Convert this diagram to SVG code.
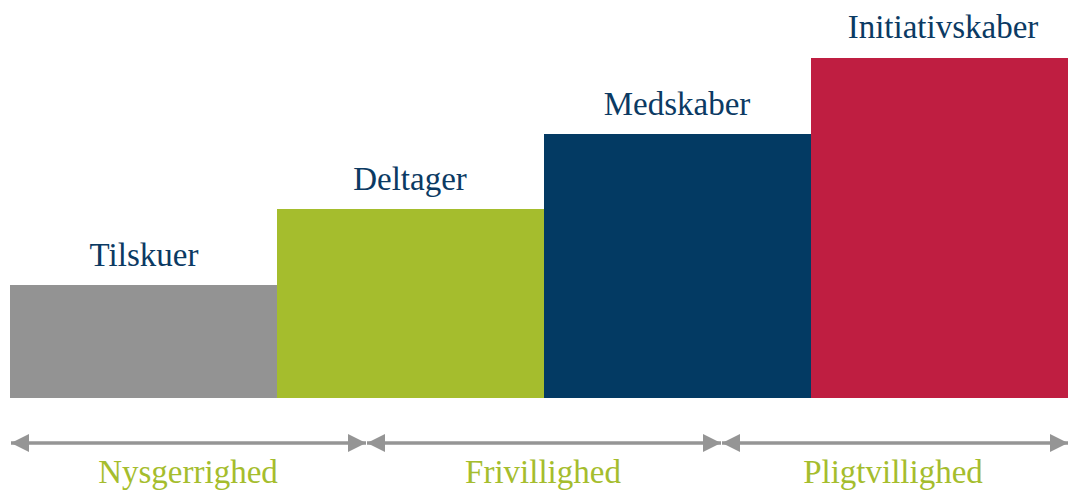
<svg xmlns="http://www.w3.org/2000/svg" width="1068" height="491" viewBox="0 0 1068 491">
<style>
.lbl{font-family:"Liberation Serif","Times New Roman",serif;font-size:33px;fill:#0b3a63;text-anchor:middle}
.phase{font-family:"Liberation Serif","Times New Roman",serif;font-size:33px;fill:#a5bd2d;text-anchor:middle}
.ln{stroke:#959595;stroke-width:3.5;fill:none}
</style>
<defs>
<marker id="ah" viewBox="0 0 18 18" refX="18" refY="9" markerWidth="18" markerHeight="18" markerUnits="userSpaceOnUse" orient="auto-start-reverse">
<path d="M0,0 L18,9 L0,18 Z" fill="#959595"/>
</marker>
</defs>
<rect width="1068" height="491" fill="#fff"/>
<g id="tilskuer">
<rect x="10" y="285" width="267" height="113" fill="#939393"/>
<text class="lbl" x="144" y="266">Tilskuer</text>
</g>
<g id="deltager">
<rect x="277" y="209" width="267" height="189" fill="#a5bd2d"/>
<text class="lbl" x="410" y="190">Deltager</text>
</g>
<g id="medskaber">
<rect x="544" y="134" width="267" height="264" fill="#033a63"/>
<text class="lbl" x="677" y="115">Medskaber</text>
</g>
<g id="initiativskaber">
<rect x="811" y="58" width="267" height="340" fill="#bf1e41"/>
<text class="lbl" x="943" y="38">Initiativskaber</text>
</g>
<g id="connectors">
<line class="ln" x1="11" y1="443" x2="366" y2="443" marker-start="url(#ah)" marker-end="url(#ah)"/>
<line class="ln" x1="367" y1="443" x2="721" y2="443" marker-start="url(#ah)" marker-end="url(#ah)"/>
<line class="ln" x1="722" y1="443" x2="1068" y2="443" marker-start="url(#ah)" marker-end="url(#ah)"/>
</g>
<g id="phases">
<text class="phase" x="188" y="483">Nysgerrighed</text>
<text class="phase" x="543" y="483">Frivillighed</text>
<text class="phase" x="893" y="483">Pligtvillighed</text>
</g>
</svg>
